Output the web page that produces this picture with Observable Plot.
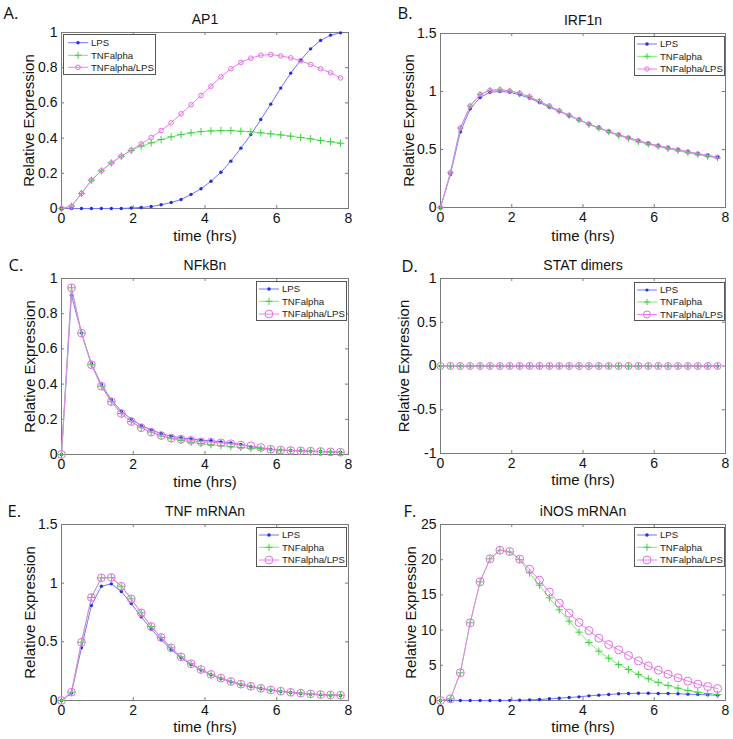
<!DOCTYPE html>
<html><head><meta charset="utf-8">
<script src="https://cdn.jsdelivr.net/npm/d3@7"></script>
<script src="https://cdn.jsdelivr.net/npm/@observablehq/plot@0.6"></script>
<style>
body{margin:0;background:#fff;}
#fig{position:relative;width:733px;height:739px;overflow:hidden;background:#fff;font-family:"Liberation Sans",Arial,sans-serif;}
.panel{position:absolute;}
.legend{position:absolute;}
</style></head>
<body><div id="fig"></div>
<script>
// ---- data ----
const time = [0,0.278,0.556,0.833,1.111,1.389,1.667,1.944,2.222,2.5,2.778,3.056,3.333,3.611,3.889,4.167,4.444,4.722,5,5.278,5.556,5.833,6.111,6.389,6.667,6.944,7.222,7.5,7.778];
const seriesNames = ["LPS","TNFalpha","TNFalpha/LPS"];
const xTicks = [0,2,4,6,8];
const xTickLabels = ["0","2","4","6","8"];

const ap1Ticks = [0,0.2,0.4,0.6,0.8,1];
const ap1TickLabels = ["0","0.2","0.4","0.6","0.8","1"];
const ap1LPS  = [0,0,0,0,0,0,0,0.003,0.006,0.011,0.021,0.034,0.051,0.080,0.112,0.155,0.206,0.269,0.343,0.420,0.506,0.593,0.684,0.769,0.843,0.907,0.955,0.985,0.998];
const ap1TNF  = [0,0.013,0.085,0.161,0.214,0.259,0.297,0.330,0.354,0.373,0.392,0.407,0.420,0.430,0.437,0.441,0.443,0.443,0.439,0.436,0.430,0.424,0.418,0.411,0.403,0.396,0.386,0.379,0.371];
const ap1Both = [0,0.013,0.085,0.161,0.214,0.259,0.297,0.332,0.367,0.403,0.443,0.487,0.538,0.589,0.642,0.695,0.748,0.794,0.830,0.854,0.871,0.875,0.867,0.856,0.839,0.818,0.794,0.771,0.742];

const irfTicks = [0,0.5,1,1.5];
const irfTickLabels = ["0","0.5","1","1.5"];
const irfLPS  = [0,0.284,0.652,0.851,0.948,0.994,1.0,0.994,0.971,0.943,0.905,0.865,0.828,0.790,0.756,0.718,0.687,0.655,0.626,0.601,0.575,0.552,0.532,0.514,0.497,0.480,0.463,0.448,0.434];
const irfTNF  = [0,0.300,0.685,0.875,0.975,1.010,1.015,1.005,0.985,0.955,0.915,0.873,0.832,0.792,0.754,0.715,0.683,0.650,0.620,0.594,0.567,0.544,0.524,0.506,0.489,0.472,0.455,0.440,0.426];
const irfBoth = [0,0.300,0.685,0.875,0.975,1.010,1.015,1.005,0.985,0.955,0.915,0.875,0.835,0.795,0.758,0.720,0.688,0.656,0.627,0.601,0.575,0.552,0.532,0.514,0.497,0.480,0.463,0.448,0.434];

const nfTicks = [0,0.2,0.4,0.6,0.8,1];
const nfTickLabels = ["0","0.2","0.4","0.6","0.8","1"];
const nfLPS  = [0,0.905,0.691,0.517,0.398,0.311,0.246,0.201,0.165,0.140,0.119,0.104,0.095,0.089,0.081,0.078,0.072,0.066,0.057,0.045,0.036,0.030,0.025,0.023,0.021,0.019,0.017,0.015,0.013];
const nfTNF  = [0,0.947,0.690,0.510,0.388,0.300,0.233,0.187,0.152,0.127,0.105,0.090,0.080,0.070,0.062,0.055,0.050,0.045,0.040,0.035,0.032,0.028,0.024,0.022,0.020,0.018,0.016,0.014,0.012];
const nfBoth = [0,0.947,0.690,0.510,0.388,0.300,0.233,0.187,0.152,0.127,0.108,0.093,0.087,0.080,0.072,0.070,0.066,0.061,0.053,0.049,0.040,0.030,0.025,0.023,0.021,0.019,0.017,0.015,0.013];

const statTicks = [-1,-0.5,0,0.5,1];
const statTickLabels = ["-1","-0.5","0","0.5","1"];
const statLPS  = [0,0,0,0,0,0,0,0,0,0,0,0,0,0,0,0,0,0,0,0,0,0,0,0,0,0,0,0,0];
const statTNF  = [0,0,0,0,0,0,0,0,0,0,0,0,0,0,0,0,0,0,0,0,0,0,0,0,0,0,0,0,0];
const statBoth = [0,0,0,0,0,0,0,0,0,0,0,0,0,0,0,0,0,0,0,0,0,0,0,0,0,0,0,0,0];

const tnfTicks = [0,0.5,1,1.5];
const tnfTickLabels = ["0","0.5","1","1.5"];
const tnfLPS  = [0,0.063,0.449,0.810,0.974,0.994,0.929,0.827,0.713,0.608,0.517,0.435,0.364,0.307,0.259,0.219,0.188,0.159,0.136,0.119,0.102,0.088,0.077,0.068,0.060,0.054,0.048,0.045,0.043];
const tnfTNF  = [0,0.071,0.497,0.878,1.045,1.048,0.974,0.866,0.747,0.631,0.537,0.449,0.372,0.313,0.264,0.223,0.191,0.162,0.139,0.121,0.104,0.090,0.079,0.070,0.062,0.056,0.050,0.047,0.045];
const tnfBoth = [0,0.071,0.497,0.878,1.045,1.048,0.974,0.866,0.747,0.631,0.537,0.449,0.372,0.313,0.264,0.223,0.191,0.162,0.139,0.121,0.104,0.090,0.079,0.070,0.062,0.056,0.050,0.047,0.045];

const inosTicks = [0,5,10,15,20,25];
const inosTickLabels = ["0","5","10","15","20","25"];
const inosLPS  = [0,0,0,0,0,0,0,0.02,0.05,0.09,0.14,0.24,0.33,0.43,0.52,0.66,0.76,0.85,0.95,0.99,1.04,1.04,0.99,0.99,0.95,0.90,0.85,0.80,0.76];
const inosTNF  = [0,0.24,3.93,11.03,16.86,20.12,21.35,21.10,20.00,18.13,16.38,14.58,12.88,11.27,9.71,8.24,7.01,6.01,5.11,4.40,3.69,3.08,2.56,2.13,1.75,1.42,1.18,0.99,0.85];
const inosBoth = [0,0.24,3.93,11.03,16.86,20.12,21.35,21.16,20.08,18.66,17.09,15.39,13.83,12.41,11.08,9.94,8.85,7.95,7.20,6.39,5.63,4.92,4.31,3.74,3.22,2.75,2.32,1.99,1.70];

// ---- styles ----
const C = {
  lpsLine: "#7474ff", lpsDot: "#2030dd",
  tnfLine: "#70ee70", tnfMark: "#3cd23c",
  bothLine: "#f07cf0", bothMark: "#e070e0",
  frame: "#7a7a7a"
};
const FONT = "Liberation Sans, Arial, Helvetica, sans-serif";

const panels = [
  {letter:"A.", title:"AP1", left:0, top:0, width:366, height:245, ml:61, mr:18, mt:32, mb:37,
   yDomain:[0,1], yTicks:ap1Ticks, yLabels:ap1TickLabels, series:[ap1LPS,ap1TNF,ap1Both],
   letterX:3, letterY:18, yLabDx:-32, xLabDy:32, dotR:1.7, plusR:2.5, plusArm:3.5, circR:2.3,
   legend:{x:63, y:34, w:92, h:40, rows:[8.7,21.3,33.3], l0:5, l1:25, m:15, tx:28}},
  {letter:"B.", title:"IRF1n", left:365, top:0, width:368, height:245, ml:75, mr:8, mt:33, mb:38,
   yDomain:[0,1.5], yTicks:irfTicks, yLabels:irfTickLabels, series:[irfLPS,irfTNF,irfBoth],
   letterX:32, letterY:18, yLabDx:-31, xLabDy:33, dotR:1.8, plusR:2.2, plusArm:3, circR:2.2,
   legend:{x:634, y:36, w:90, h:39, rows:[8,20.3,33], l0:3, l1:23, m:13, tx:26}},
  {letter:"C.", title:"NFkBn", left:0, top:245, width:366, height:245, ml:61, mr:18, mt:33, mb:36,
   yDomain:[0,1], yTicks:nfTicks, yLabels:nfTickLabels, series:[nfLPS,nfTNF,nfBoth],
   letterX:8, letterY:25, yLabDx:-31.5, xLabDy:32, dotR:1.7, plusR:2.5, plusArm:3.5, circR:3.9,
   legend:{x:256, y:281, w:90, h:39, rows:[8,20.3,33], l0:3, l1:23, m:13, tx:26}},
  {letter:"D.", title:"STAT dimers", left:365, top:245, width:368, height:245, ml:75, mr:8, mt:33, mb:37,
   yDomain:[-1,1], yTicks:statTicks, yLabels:statTickLabels, series:[statLPS,statTNF,statBoth],
   letterX:36, letterY:26.5, yLabDx:-36, xLabDy:31, dotR:1.6, plusR:2.2, plusArm:3, circR:3.5,
   legend:{x:634, y:282, w:90, h:38, rows:[8,20,32.5], l0:3, l1:23, m:13, tx:26}},
  {letter:"E.", title:"TNF mRNAn", left:0, top:490, width:366, height:249, ml:61, mr:18, mt:34, mb:39,
   yDomain:[0,1.5], yTicks:tnfTicks, yLabels:tnfTickLabels, series:[tnfLPS,tnfTNF,tnfBoth],
   letterX:7, letterY:26.5, yLabDx:-31.5, xLabDy:31, dotR:1.7, plusR:2.5, plusArm:3.5, circR:3.9,
   legend:{x:256, y:527, w:90, h:39, rows:[8,20.3,33], l0:3, l1:23, m:13, tx:26}},
  {letter:"F.", title:"iNOS mRNAn", left:365, top:490, width:368, height:249, ml:75, mr:8, mt:34, mb:39,
   yDomain:[0,25], yTicks:inosTicks, yLabels:inosTickLabels, series:[inosLPS,inosTNF,inosBoth],
   letterX:38, letterY:26.5, yLabDx:-29, xLabDy:31.5, dotR:1.7, plusR:2.5, plusArm:3.5, circR:4,
   legend:{x:634, y:527, w:90, h:39, rows:[8,20.3,33], l0:3, l1:23, m:13, tx:26}}
];

const fig = document.getElementById("fig");

function makePanel(p) {
  const fw = p.width - p.ml - p.mr, fh = p.height - p.mt - p.mb;
  const data = p.series.map((vals, k) => time.map((t, i) => ({t, v: vals[i], s: seriesNames[k]})));
  const yFmt = d => p.yLabels[p.yTicks.indexOf(d)];
  const xFmt = d => xTickLabels[xTicks.indexOf(d)];
  const svg = Plot.plot({
    width: p.width, height: p.height,
    marginLeft: p.ml, marginRight: p.mr, marginTop: p.mt, marginBottom: p.mb,
    style: {fontFamily: FONT, fontSize: "14px", color: "#111", background: "transparent", overflow: "visible"},
    x: {domain: [0, 8]},
    y: {domain: p.yDomain},
    marks: [
      Plot.frame({stroke: C.frame, strokeWidth: 1}),
      Plot.tickX(xTicks, {x: d => d, stroke: C.frame, insetTop: fh - 3}),
      Plot.tickX(xTicks, {x: d => d, stroke: C.frame, insetBottom: fh - 3}),
      Plot.tickY(p.yTicks, {y: d => d, stroke: C.frame, insetRight: fw - 3}),
      Plot.tickY(p.yTicks, {y: d => d, stroke: C.frame, insetLeft: fw - 3}),
      Plot.axisX(xTicks, {tickSize: 0, tickPadding: 5, tickFormat: xFmt, label: null, fontSize: 14, fill: "#111"}),
      Plot.axisY(p.yTicks, {tickSize: 0, tickPadding: 4, tickFormat: yFmt, label: null, fontSize: 14, fill: "#111"}),
      // LPS
      Plot.line(data[0], {x: "t", y: "v", stroke: C.lpsLine, strokeWidth: 1}),
      Plot.dot(data[0], {x: "t", y: "v", r: p.dotR, fill: C.lpsDot, stroke: "none"}),
      // TNFalpha
      Plot.line(data[1], {x: "t", y: "v", stroke: C.tnfLine, strokeWidth: 1}),
      Plot.dot(data[1], {x: "t", y: "v", r: p.plusR, symbol: "plus", fill: "none", stroke: C.tnfMark, strokeWidth: 1}),
      // TNFalpha/LPS
      Plot.line(data[2], {x: "t", y: "v", stroke: C.bothLine, strokeWidth: 1}),
      Plot.dot(data[2], {x: "t", y: "v", r: p.circR, fill: "none", stroke: C.bothMark, strokeWidth: 1}),
      // texts
      Plot.text([p.title], {text: d => d, frameAnchor: "top", dy: -8.5, lineAnchor: "bottom", textAnchor: "middle", fontSize: 14, fill: "#111"}),
      Plot.text(["Relative Expression"], {text: d => d, frameAnchor: "left", rotate: -90, dx: p.yLabDx, textAnchor: "middle", lineAnchor: "middle", fontSize: 15, fill: "#111"}),
      Plot.text(["time (hrs)"], {text: d => d, frameAnchor: "bottom", dy: p.xLabDy, lineAnchor: "bottom", textAnchor: "middle", fontSize: 15, fill: "#111"}),
      Plot.text([p.letter], {text: d => d, frameAnchor: "top-left", dx: p.letterX - p.ml, dy: p.letterY - p.mt, textAnchor: "start", lineAnchor: "bottom", fontSize: 16.5, fontFamily: "Open Sans, sans-serif", fill: "#111"})
    ]
  });
  const div = document.createElement("div");
  div.className = "panel";
  div.style.left = p.left + "px";
  div.style.top = p.top + "px";
  div.style.width = p.width + "px";
  div.style.height = p.height + "px";
  div.appendChild(svg);
  fig.appendChild(div);

  // legend box (inside the axes, like MATLAB)
  const L = p.legend;
  const lg = d3.create("svg").attr("class", "legend")
    .attr("width", L.w + 1).attr("height", L.h + 1)
    .style("left", L.x + "px").style("top", L.y + "px");
  lg.append("rect").attr("x", 0.5).attr("y", 0.5).attr("width", L.w).attr("height", L.h)
    .attr("fill", "#fff").attr("stroke", "#555");
  const lineCols = [C.lpsLine, C.tnfLine, C.bothLine];
  seriesNames.forEach((name, k) => {
    const y = L.rows[k];
    lg.append("line").attr("x1", L.l0).attr("x2", L.l1).attr("y1", y).attr("y2", y)
      .attr("stroke", lineCols[k]).attr("stroke-width", 1);
    if (k === 0) lg.append("circle").attr("cx", L.m).attr("cy", y).attr("r", p.dotR).attr("fill", C.lpsDot);
    if (k === 1) {
      const a = p.plusArm;
      lg.append("path").attr("d", `M${L.m - a},${y}H${L.m + a}M${L.m},${y - a}V${y + a}`)
        .attr("stroke", C.tnfMark).attr("fill", "none");
    }
    if (k === 2) lg.append("circle").attr("cx", L.m).attr("cy", y).attr("r", p.circR)
      .attr("fill", "none").attr("stroke", C.bothMark);
    lg.append("text").attr("x", L.tx).attr("y", y).attr("dy", "0.35em")
      .attr("font-family", FONT).attr("font-size", 9.6).attr("fill", "#222").text(name);
  });
  fig.appendChild(lg.node());
}

panels.forEach(makePanel);
</script>
</body></html>
